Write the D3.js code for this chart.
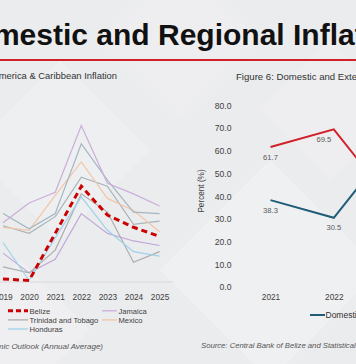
<!DOCTYPE html>
<html>
<head>
<meta charset="utf-8">
<script src="https://cdn.jsdelivr.net/npm/d3@7"></script>
<style>
  html, body { margin: 0; padding: 0; background: #ebecee; overflow: hidden; }
  svg { display: block; font-family: "Liberation Sans", Arial, sans-serif; }
</style>
</head>
<body>
<svg id="chart" width="356" height="364"></svg>
<script>
// ---------- data ----------
const mainTitle = "Domestic and Regional Inflation";
const leftTitle = "Figure 5: Latin America & Caribbean Inflation";
const leftSource = "Source: IMF World Economic Outlook (Annual Average)";
const rightTitle = "Figure 6: Domestic and External Inflation Contribution";
const rightSource = "Source: Central Bank of Belize and Statistical Institute of Belize";

const years = ["2019", "2020", "2021", "2022", "2023", "2024", "2025"];
const belize     = [0.2, 0.1, 3.2, 6.3, 4.4, 3.6, 3.0];
const jamaica    = [3.9, 5.2, 5.9, 10.3, 6.5, 5.8, 5.0];
const mexico     = [3.6, 3.4, 5.7, 7.9, 5.5, 4.7, 3.3];
const trinidad   = [1.0, 0.6, 2.1, 5.8, 4.6, 1.3, 2.0];
const honduras   = [2.6, 0.1, 2.9, 5.6, 3.4, 2.0, 1.7];
const guatemala  = [4.5, 3.5, 4.5, 9.1, 6.7, 4.6, 4.5];
const elSalvador = [3.7, 3.2, 4.3, 6.9, 6.3, 3.8, 4.0];
const barbados   = [1.9, 0.6, 1.5, 4.5, 3.2, 2.7, 2.4];

const years2   = ["2021", "2022", "2023"];
const domestic = [38.3, 30.5, 65.6];
const external = [61.7, 69.5, 34.4];
const yTicks2  = [0, 10, 20, 30, 40, 50, 60, 70, 80];

// ---------- drawing ----------
const svg = d3.select("#chart");

// background with subtle diamond shapes
svg.append("rect").attr("width", 356).attr("height", 364).attr("fill", "#ebecee");
const bg = svg.append("g").attr("fill", "#ffffff");
[[60, 150, 90, 0.18], [270, 270, 110, 0.22], [180, 40, 80, 0.15], [20, 330, 70, 0.2], [330, 110, 70, 0.15]]
  .forEach(([cx, cy, r, o]) => {
    bg.append("path")
      .attr("d", `M${cx},${cy - r}L${cx + r},${cy}L${cx},${cy + r}L${cx - r},${cy}Z`)
      .attr("opacity", o);
  });

// main title
const t = svg.append("text")
  .attr("y", 45)
  .attr("font-size", 30)
  .attr("font-weight", "bold")
  .attr("fill", "#111")
  .text(mainTitle);
const idx = mainTitle.indexOf("Inflation");
const off = t.node().getSubStringLength(0, idx);
t.attr("x", 293 - off);

svg.append("line").attr("x1", 0).attr("x2", 356).attr("y1", 60).attr("y2", 60)
  .attr("stroke", "#d0202a").attr("stroke-width", 2);

// ---------- left chart ----------
svg.append("text").attr("x", 117).attr("y", 79).attr("text-anchor", "end")
  .attr("font-size", 9.4).attr("fill", "#333").text(leftTitle);

const xL = d3.scalePoint().domain(years).range([3, 159.6]);
const yL = d3.scaleLinear().domain([0, 12]).range([282, 282 - 12 * 15.2]);

svg.append("line").attr("x1", 0).attr("x2", 173).attr("y1", yL(0)).attr("y2", yL(0))
  .attr("stroke", "#d9d9d9").attr("stroke-width", 1);

const xAxisL = svg.append("g").attr("transform", `translate(0,${yL(0)})`)
  .call(d3.axisBottom(xL).tickSize(0).tickPadding(12));
xAxisL.select(".domain").remove();
xAxisL.selectAll("text").attr("font-size", 8.3).attr("fill", "#404040")
  .attr("font-family", "Liberation Sans, Arial, sans-serif");

const seriesL = [
  { name: "Barbados", values: barbados, color: "#c2a8d8", w: 1.2 },
  { name: "Trinidad and Tobago", values: trinidad, color: "#adadad", w: 1.2 },
  { name: "Honduras", values: honduras, color: "#9fd2ea", w: 1.2 },
  { name: "El Salvador", values: elSalvador, color: "#a8b4ba", w: 1.2 },
  { name: "Mexico", values: mexico, color: "#f3c6a6", w: 1.2 },
  { name: "Guatemala", values: guatemala, color: "#a3b6c1", w: 1.2 },
  { name: "Jamaica", values: jamaica, color: "#cbaedb", w: 1.2 },
  { name: "Belize", values: belize, color: "#cc0000", w: 3, dash: "6,4" }
];
const lineL = d3.line().x((d, i) => xL(years[i])).y(d => yL(d));
svg.append("g").selectAll("path").data(seriesL).join("path")
  .attr("d", d => lineL(d.values))
  .attr("fill", "none")
  .attr("stroke", d => d.color)
  .attr("stroke-width", d => d.w)
  .attr("stroke-dasharray", d => d.dash || null);

// legend (first column lies outside the visible crop)
const legendItems = [
  { s: "Belize", col: 1, row: 0 },
  { s: "Trinidad and Tobago", col: 1, row: 1 },
  { s: "Honduras", col: 1, row: 2 },
  { s: "Jamaica", col: 2, row: 0 },
  { s: "Mexico", col: 2, row: 1 },
  { s: "Guatemala", col: 0, row: 0 },
  { s: "El Salvador", col: 0, row: 1 },
  { s: "Barbados", col: 0, row: 2 }
];
const colX = [-87, 8, 102];
const colW = [20, 20, 15];
const lg = svg.append("g");
legendItems.forEach(it => {
  const s = seriesL.find(d => d.name === it.s);
  const y = 310.8 + it.row * 9.1;
  lg.append("line").attr("x1", colX[it.col]).attr("x2", colX[it.col] + colW[it.col])
    .attr("y1", y).attr("y2", y)
    .attr("stroke", s.color).attr("stroke-width", s.name === "Belize" ? 3 : 1.3)
    .attr("stroke-dasharray", s.dash ? "5,3" : null);
  lg.append("text").attr("x", colX[it.col] + colW[it.col] + 1.5).attr("y", y + 2.8)
    .attr("font-size", 7.6).attr("fill", "#404040").text(s.name);
});

svg.append("text").attr("x", 103).attr("y", 349).attr("text-anchor", "end")
  .attr("font-size", 8).attr("font-style", "italic").attr("fill", "#555")
  .text(leftSource);

// ---------- right chart ----------
svg.append("text").attr("x", 236).attr("y", 80)
  .attr("font-size", 9.6).attr("fill", "#333").text(rightTitle);

const xR = d3.scalePoint().domain(years2).range([270.5, 397.1]);
const yR = d3.scaleLinear().domain([0, 80]).range([287, 105.5]);

const yAxisR = svg.append("g").attr("transform", "translate(231.5,0)")
  .call(d3.axisLeft(yR).tickValues(yTicks2).tickFormat(d3.format(".1f")).tickSize(0).tickPadding(0));
yAxisR.select(".domain").remove();
yAxisR.selectAll("text").attr("font-size", 8.6).attr("fill", "#404040")
  .attr("font-family", "Liberation Sans, Arial, sans-serif");

const xAxisR = svg.append("g").attr("transform", `translate(0,${yR(0)})`)
  .call(d3.axisBottom(xR).tickSize(0).tickPadding(7));
xAxisR.select(".domain").remove();
xAxisR.selectAll("text").attr("font-size", 8.3).attr("fill", "#404040")
  .attr("font-family", "Liberation Sans, Arial, sans-serif");

svg.append("text").attr("transform", "translate(204,191) rotate(-90)")
  .attr("text-anchor", "middle").attr("font-size", 8.2).attr("fill", "#404040")
  .text("Percent (%)");

const lineR = d3.line().x((d, i) => xR(years2[i])).y(d => yR(d));
const seriesR = [
  { name: "Domestic", values: domestic, color: "#1f5c78" },
  { name: "External", values: external, color: "#d0202a" }
];
svg.append("g").selectAll("path").data(seriesR).join("path")
  .attr("d", d => lineR(d.values))
  .attr("fill", "none").attr("stroke", d => d.color).attr("stroke-width", 2);

seriesR.forEach(s => {
  svg.append("g").selectAll("text").data(s.values.slice(0, 2)).join("text")
    .attr("x", (d, i) => xR(years2[i]) - (s.name === "External" && i === 1 ? 10 : 0))
    .attr("y", d => yR(d) + 12.5)
    .attr("text-anchor", "middle").attr("font-size", 7.6).attr("fill", "#595959")
    .text(d => d.toFixed(1));
});

// right legend
svg.append("line").attr("x1", 310).attr("x2", 325).attr("y1", 315).attr("y2", 315)
  .attr("stroke", "#1f5c78").attr("stroke-width", 2);
svg.append("text").attr("x", 325.5).attr("y", 318).attr("font-size", 8.5).attr("fill", "#333")
  .text("Domestic");
svg.append("line").attr("x1", 380).attr("x2", 395).attr("y1", 315).attr("y2", 315)
  .attr("stroke", "#d0202a").attr("stroke-width", 2);
svg.append("text").attr("x", 396).attr("y", 318).attr("font-size", 8.5).attr("fill", "#333")
  .text("External");

svg.append("text").attr("x", 201).attr("y", 348)
  .attr("font-size", 7.7).attr("font-style", "italic").attr("fill", "#555")
  .text(rightSource);
</script>
</body>
</html>
